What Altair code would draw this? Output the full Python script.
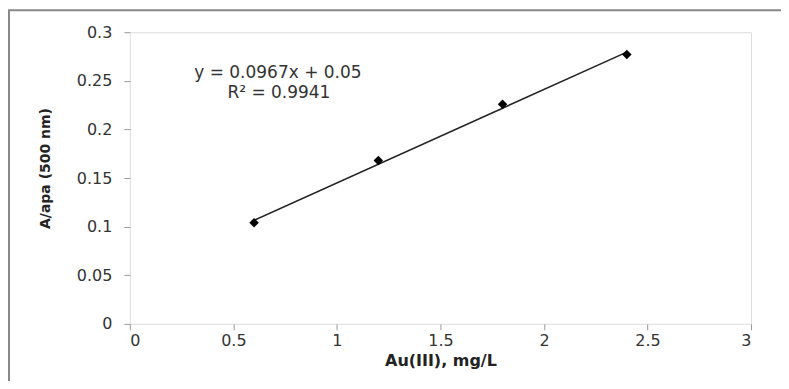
import altair as alt
import pandas as pd

conc = [0.6, 1.2, 1.8, 2.4]
absorb = [0.104, 0.168, 0.226, 0.277]
trend_x = [0.6, 2.4]
trend_y = [0.1065, 0.2795]
eq_lines = ["y = 0.0967x + 0.05", "R² = 0.9941"]
eq_x = [0.715, 0.72]
eq_y = [0.258, 0.2375]

df = pd.DataFrame({"x": conc, "y": absorb})
tr = pd.DataFrame({"x": trend_x, "y": trend_y})
ann = pd.DataFrame({"x": eq_x, "y": eq_y, "t": eq_lines})

FONT = "DejaVu Sans"

xscale = alt.Scale(domain=[0, 3], nice=False)
yscale = alt.Scale(domain=[0, 0.3], nice=False)

xax = alt.Axis(values=[0, 0.5, 1, 1.5, 2, 2.5, 3], title="Au(III), mg/L", format="~g",
               grid=False, labelFontSize=16, titleFontSize=16, titleFontWeight="bold",
               labelColor="#333", titleColor="#222", tickColor="#999", tickSize=6,
               domain=False, labelPadding=3, titlePadding=4, labelFont=FONT, titleFont=FONT)
yax = alt.Axis(values=[0, 0.05, 0.1, 0.15, 0.2, 0.25, 0.3], title="A/apa (500 nm)",
               grid=False, labelFontSize=16, titleFontSize=14, titleFontWeight="bold",
               labelColor="#333", titleColor="#222", tickColor="#999", tickSize=6,
               domain=False, labelPadding=12, titlePadding=24, labelFont=FONT, titleFont=FONT,
               format="~g", titleY=136)

border = alt.Chart(pd.DataFrame({"a": [0]})).mark_rect(
    fill=None, stroke="#888", strokeWidth=2, clip=False
).encode(x=alt.value(-121), x2=alt.value(900), y=alt.value(-22), y2=alt.value(500))

pts = alt.Chart(df).mark_point(shape="diamond", filled=True, color="black", size=90, opacity=1).encode(
    x=alt.X("x:Q", scale=xscale, axis=xax),
    y=alt.Y("y:Q", scale=yscale, axis=yax),
)

trend = alt.Chart(tr).mark_line(color="#222", strokeWidth=1.6).encode(
    x=alt.X("x:Q", scale=xscale), y=alt.Y("y:Q", scale=yscale)
)

txt = alt.Chart(ann).mark_text(fontSize=17, color="#333", font=FONT, align="center").encode(
    x=alt.X("x:Q", scale=xscale), y=alt.Y("y:Q", scale=yscale), text="t:N"
)

chart = alt.layer(border, trend, pts, txt).properties(
    width=622, height=292, autosize="none",
    padding={"left": 122, "top": 24, "right": 30, "bottom": 57},
).configure_view(stroke="#333", strokeWidth=2).configure(background="white")

chart.save("out.html", embed_options={"renderer": "svg", "actions": False})
